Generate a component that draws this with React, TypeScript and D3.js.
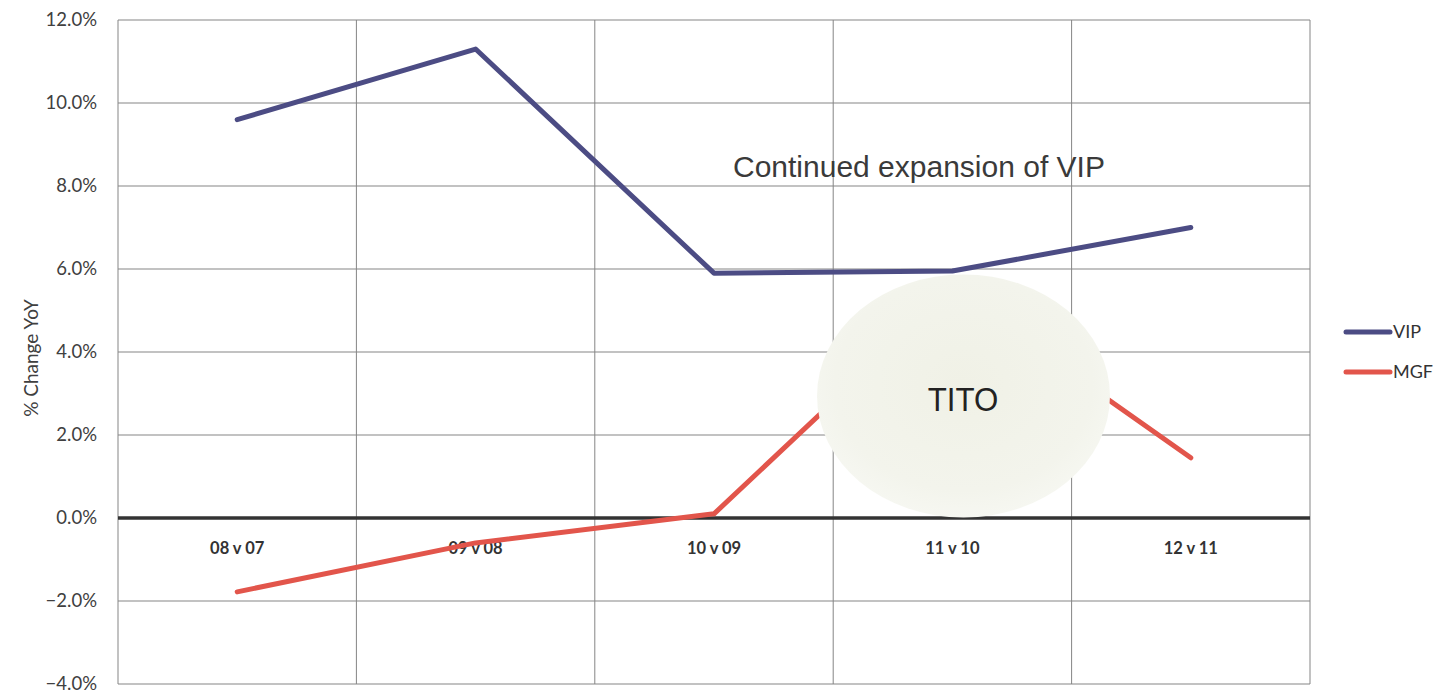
import React from "react";
import * as d3 from "d3";

const categories = ["08 v 07", "09 v 08", "10 v 09", "11 v 10", "12 v 11"];
const vipValues = [9.6, 11.3, 5.9, 5.95, 7.0];
const mgfValues = [-1.78, -0.6, 0.1, 5.5, 1.45];
const yTicks = [-4, -2, 0, 2, 4, 6, 8, 10, 12];
const seriesNames = ["VIP", "MGF"];
const seriesColors = ["#4c4c84", "#e2554b"];

const W = 1445;
const H = 696;
const left = 118;
const right = 1310;
const top = 20;
const bottom = 684;

export default function App() {
  const x = d3.scaleBand<string>().domain(categories).range([left, right]).padding(0);
  const y = d3.scaleLinear().domain([-4, 12]).range([bottom, top]);
  const cx = (c: string) => (x(c) as number) + x.bandwidth() / 2;
  const line = d3
    .line<number>()
    .x((_, i) => cx(categories[i]))
    .y((v) => y(v));
  const fmt = d3.format(".1f");

  return (
    <svg
      width={W}
      height={H}
      style={{ position: "absolute", left: 0, top: 0, background: "#fff" }}
    >
      {yTicks.map((t) => (
        <line
          key={"h" + t}
          x1={left}
          x2={right}
          y1={y(t)}
          y2={y(t)}
          stroke="#858585"
          strokeWidth={1}
        />
      ))}
      {categories.map((c) => (
        <line
          key={"v" + c}
          x1={x(c) as number}
          x2={x(c) as number}
          y1={top}
          y2={bottom}
          stroke="#858585"
          strokeWidth={1}
        />
      ))}
      <line x1={right} x2={right} y1={top} y2={bottom} stroke="#858585" strokeWidth={1} />
      {yTicks.map((t) => (
        <text
          key={"t" + t}
          x={97}
          y={y(t)}
          dy="0.35em"
          textAnchor="end"
          fontFamily="Lato, 'Open Sans', sans-serif"
          fontSize={18.5}
          fill="#404040"
        >
          {fmt(t) + "%"}
        </text>
      ))}
      <text
        transform={`translate(31, ${(top + bottom) / 2 + 6}) rotate(-90)`}
        textAnchor="middle"
        dy="0.35em"
        fontFamily="Lato, 'Open Sans', sans-serif"
        fontSize={19}
        fill="#404040"
      >
        % Change YoY
      </text>
      <line x1={left} x2={right} y1={y(0)} y2={y(0)} stroke="#333" strokeWidth={3.5} />
      {categories.map((c) => (
        <text
          key={"c" + c}
          x={cx(c)}
          y={y(0) + 36}
          textAnchor="middle"
          fontFamily="Lato, 'Open Sans', sans-serif"
          fontWeight="bold"
          fontSize={16.5}
          fill="#333"
        >
          {c}
        </text>
      ))}
      <text
        x={733}
        y={177}
        fontFamily="'Liberation Sans', Arial, sans-serif"
        fontSize={30}
        fill="#3a3a3a"
      >
        Continued expansion of VIP
      </text>
      <path
        d={line(mgfValues) as string}
        fill="none"
        stroke={seriesColors[1]}
        strokeWidth={5}
        strokeLinejoin="round"
        strokeLinecap="round"
      />
      <defs>
        <radialGradient id="bub" cx="50%" cy="45%" r="55%">
          <stop offset="0%" stopColor="#f0f1e6" />
          <stop offset="80%" stopColor="#f3f4ec" />
          <stop offset="100%" stopColor="#f6f7f1" />
        </radialGradient>
      </defs>
      <ellipse cx={963.5} cy={396} rx={146.5} ry={121.5} fill="url(#bub)" />
      <text
        x={963}
        y={399}
        dy="0.35em"
        textAnchor="middle"
        fontFamily="'Liberation Sans', Arial, sans-serif"
        fontSize={34}
        fill="#222"
        transform="translate(963 0) scale(0.92 1) translate(-963 0)"
      >
        TITO
      </text>
      <path
        d={line(vipValues) as string}
        fill="none"
        stroke={seriesColors[0]}
        strokeWidth={5}
        strokeLinejoin="round"
        strokeLinecap="round"
      />
      {seriesNames.map((n, i) => (
        <g key={n} transform={`translate(0, ${332 + i * 40})`}>
          <line
            x1={1346}
            x2={1390}
            y1={0}
            y2={0}
            stroke={seriesColors[i]}
            strokeWidth={5}
            strokeLinecap="round"
          />
          <text
            x={1393}
            y={0}
            dy="0.35em"
            fontFamily="Lato, 'Open Sans', sans-serif"
            fontSize={18}
            fill="#333"
          >
            {n}
          </text>
        </g>
      ))}
    </svg>
  );
}
